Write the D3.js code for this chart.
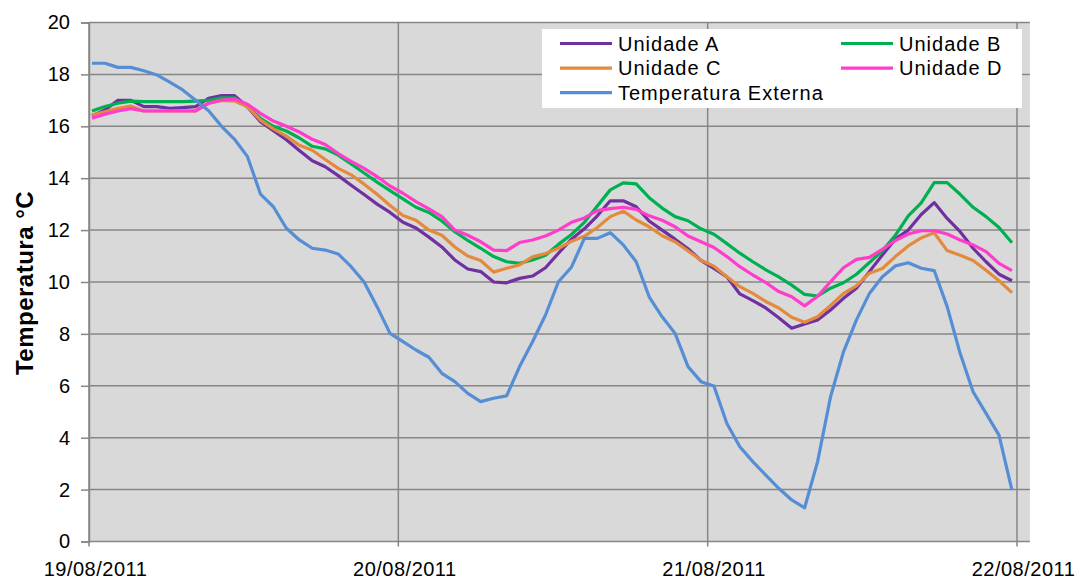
<!DOCTYPE html>
<html>
<head>
<meta charset="utf-8">
<script src="https://cdn.jsdelivr.net/npm/d3@7"></script>
<style>
    body { margin: 0; background: #fff; }
    svg { font-family: "Liberation Sans", Arial, sans-serif; }
</style>
</head>
<body>
<svg id="chart"></svg>
<script>
// Series names and colours (legend order)
var seriesNames = ["Unidade A", "Unidade B", "Unidade C", "Unidade D", "Temperatura Externa"];
var seriesColours = ["#7030A0", "#00B050", "#E48A3C", "#FF3CCB", "#558ED5"];

// Hourly readings, 19/08/2011 00:15 onwards
var unidadeA = [16.40, 16.63, 17.00, 17.00, 16.76, 16.76, 16.69, 16.72, 16.76, 17.08, 17.18, 17.18,
    16.75, 16.18, 15.83, 15.48, 15.07, 14.67, 14.44, 14.10, 13.73, 13.37, 13.00, 12.68,
    12.30, 12.08, 11.73, 11.35, 10.85, 10.50, 10.40, 10.00, 9.97, 10.14, 10.23, 10.55,
    11.11, 11.65, 12.05, 12.55, 13.13, 13.13, 12.90, 12.35, 12.00, 11.65, 11.28, 10.83,
    10.52, 10.20, 9.54, 9.28, 9.00, 8.62, 8.22, 8.38, 8.54, 8.92, 9.37, 9.76,
    10.40, 11.04, 11.65, 12.00, 12.60, 13.06, 12.45, 11.94, 11.30, 10.78, 10.30, 10.05];
var unidadeB = [16.59, 16.76, 16.89, 16.97, 16.95, 16.95, 16.95, 16.95, 16.97, 17.00, 17.10, 17.10,
    16.75, 16.31, 16.00, 15.82, 15.55, 15.23, 15.13, 14.89, 14.55, 14.20, 13.85, 13.52,
    13.20, 12.88, 12.68, 12.35, 11.94, 11.60, 11.30, 10.98, 10.78, 10.72, 10.85, 11.03,
    11.45, 11.83, 12.30, 12.93, 13.55, 13.82, 13.78, 13.25, 12.85, 12.52, 12.36, 12.05,
    11.84, 11.48, 11.11, 10.78, 10.47, 10.20, 9.88, 9.52, 9.46, 9.76, 9.97, 10.30,
    10.75, 11.20, 11.80, 12.55, 13.05, 13.83, 13.83, 13.38, 12.88, 12.52, 12.10, 11.51];
var unidadeC = [16.43, 16.56, 16.69, 16.78, 16.59, 16.59, 16.59, 16.59, 16.59, 16.89, 17.00, 16.97,
    16.75, 16.24, 15.90, 15.62, 15.27, 15.08, 14.72, 14.38, 14.13, 13.77, 13.38, 12.95,
    12.56, 12.38, 12.00, 11.80, 11.35, 11.00, 10.83, 10.38, 10.53, 10.66, 10.97, 11.10,
    11.30, 11.57, 11.76, 12.10, 12.52, 12.73, 12.39, 12.13, 11.78, 11.55, 11.20, 10.84,
    10.61, 10.20, 9.82, 9.56, 9.25, 9.00, 8.64, 8.45, 8.66, 9.10, 9.56, 9.85,
    10.34, 10.52, 10.98, 11.39, 11.70, 11.90, 11.21, 11.03, 10.83, 10.45, 10.05, 9.59];
var unidadeD = [16.31, 16.47, 16.59, 16.68, 16.59, 16.59, 16.59, 16.59, 16.59, 16.89, 17.01, 17.05,
    16.85, 16.50, 16.20, 16.00, 15.78, 15.50, 15.30, 14.95, 14.65, 14.38, 14.06, 13.70,
    13.42, 13.10, 12.82, 12.52, 12.00, 11.80, 11.55, 11.23, 11.21, 11.52, 11.62, 11.77,
    12.00, 12.30, 12.47, 12.75, 12.83, 12.88, 12.80, 12.55, 12.38, 12.13, 11.77, 11.55,
    11.33, 10.98, 10.59, 10.27, 9.98, 9.63, 9.43, 9.08, 9.45, 10.01, 10.55, 10.87,
    10.95, 11.26, 11.60, 11.85, 11.98, 11.98, 11.85, 11.62, 11.43, 11.17, 10.72, 10.44];
var tempExterna = [18.43, 18.43, 18.27, 18.27, 18.14, 17.98, 17.70, 17.40, 17.00, 16.60, 16.00, 15.50,
    14.83, 13.39, 12.90, 12.07, 11.62, 11.30, 11.23, 11.08, 10.59, 10.00, 9.05, 8.02,
    7.70, 7.38, 7.10, 6.48, 6.16, 5.71, 5.39, 5.52, 5.61, 6.74, 7.70, 8.73,
    10.01, 10.57, 11.68, 11.68, 11.90, 11.43, 10.78, 9.43, 8.66, 8.02, 6.74, 6.16,
    5.99, 4.55, 3.65, 3.08, 2.56, 2.05, 1.60, 1.30, 3.08, 5.58, 7.31, 8.54,
    9.56, 10.20, 10.62, 10.74, 10.53, 10.44, 9.05, 7.25, 5.77, 4.94, 4.10, 1.98];

// Axis ticks
var dateTicks = ["2011-08-19", "2011-08-20", "2011-08-21", "2011-08-22"];
var tempTicks = [0, 2, 4, 6, 8, 10, 12, 14, 16, 18, 20];

function drawChart() {
    var width = 1086,
        height = 580;

    var parseDay = d3.timeParse("%Y-%m-%d");
    var days = dateTicks.map(parseDay);

    // logger started at 00:15, one reading every ~60 minutes
    var start = d3.timeMinute.offset(days[0], 14);
    var times = unidadeA.map(function (d, i) {
        return d3.timeSecond.offset(start, Math.round(i * 3619));
    });

    var x = d3.scaleTime()
        .domain([days[0], days[days.length - 1]])
        .range([89, 1017]);

    var y = d3.scaleLinear()
        .domain([0, 20])
        .range([541.5, 22.5]);

    // plot area runs a little past the last date
    var plotRight = x(d3.timeHour.offset(days[days.length - 1], 1.1));

    var svg = d3.select("#chart")
        .attr("width", width)
        .attr("height", height);

    // Grey plot background
    svg.append("rect")
        .attr("x", x.range()[0])
        .attr("y", y(20))
        .attr("width", plotRight - x.range()[0])
        .attr("height", y(0) - y(20))
        .attr("fill", "#D9D9D9");

    // Horizontal grid lines
    svg.append("g")
        .selectAll("line")
        .data(tempTicks)
        .enter().append("line")
        .attr("x1", x.range()[0])
        .attr("x2", plotRight)
        .attr("y1", function (d) { return y(d); })
        .attr("y2", function (d) { return y(d); })
        .attr("stroke", "#868686")
        .attr("stroke-width", 1.5);

    // Vertical grid lines (one per day), with a small tick under the axis
    svg.append("g")
        .selectAll("line")
        .data(days)
        .enter().append("line")
        .attr("x1", function (d) { return x(d); })
        .attr("x2", function (d) { return x(d); })
        .attr("y1", y(20))
        .attr("y2", y(0) + 5)
        .attr("stroke", "#868686")
        .attr("stroke-width", 1.5);

    // Y axis
    var yAxis = d3.axisLeft(y)
        .tickValues(tempTicks)
        .tickSize(8)
        .tickPadding(11);

    var gy = svg.append("g")
        .attr("transform", "translate(" + x.range()[0] + ",0)")
        .call(yAxis);
    gy.select(".domain").attr("stroke", "#868686").attr("stroke-width", 1.5);
    gy.selectAll(".tick line").attr("stroke", "#868686").attr("stroke-width", 1.5);
    gy.selectAll(".tick text")
        .attr("fill", "#000")
        .style("font-size", "20px");

    // X axis labels
    var xAxis = d3.axisBottom(x)
        .tickValues(days)
        .tickSize(0)
        .tickPadding(20)
        .tickFormat(d3.timeFormat("%d/%m/%Y"));

    var gx = svg.append("g")
        .attr("transform", "translate(6," + y(0) + ")")
        .call(xAxis);
    gx.select(".domain").remove();
    gx.selectAll(".tick text")
        .attr("fill", "#000")
        .style("font-size", "20px")
        .style("letter-spacing", "0.5px");

    // Y axis title
    svg.append("text")
        .attr("transform", "translate(33,283) rotate(-90)")
        .style("text-anchor", "middle")
        .style("font-size", "24px")
        .style("font-weight", "bold")
        .style("letter-spacing", "0.5px")
        .text("Temperatura °C");

    // Lines
    var allSeries = [unidadeA, unidadeB, unidadeC, unidadeD, tempExterna];
    var line = d3.line()
        .x(function (d, i) { return x(times[i]); })
        .y(function (d) { return y(d); });

    svg.append("g")
        .selectAll("path")
        .data(allSeries)
        .enter().append("path")
        .attr("d", line)
        .attr("fill", "none")
        .attr("stroke", function (d, i) { return seriesColours[i]; })
        .attr("stroke-width", 3.2)
        .attr("stroke-linejoin", "round");

    // Legend
    var legend = svg.append("g");
    legend.append("rect")
        .attr("x", 542)
        .attr("y", 29)
        .attr("width", 480)
        .attr("height", 79)
        .attr("fill", "#fff");

    var item = legend.selectAll(".item")
        .data(seriesNames)
        .enter().append("g")
        .attr("class", "item")
        .attr("transform", function (d, i) {
            var col = (i < 4) ? i % 2 : 0,
                row = Math.floor(i / 2);
            return "translate(" + (560 + col * 281) + "," + (43.5 + row * 24.6) + ")";
        });

    item.append("line")
        .attr("x1", 0)
        .attr("x2", 52)
        .attr("stroke", function (d, i) { return seriesColours[i]; })
        .attr("stroke-width", 3.2);

    item.append("text")
        .attr("x", 58)
        .attr("dy", "0.36em")
        .style("font-size", "20px")
        .style("letter-spacing", "1px")
        .text(function (d) { return d; });
}

drawChart();
</script>
</body>
</html>
